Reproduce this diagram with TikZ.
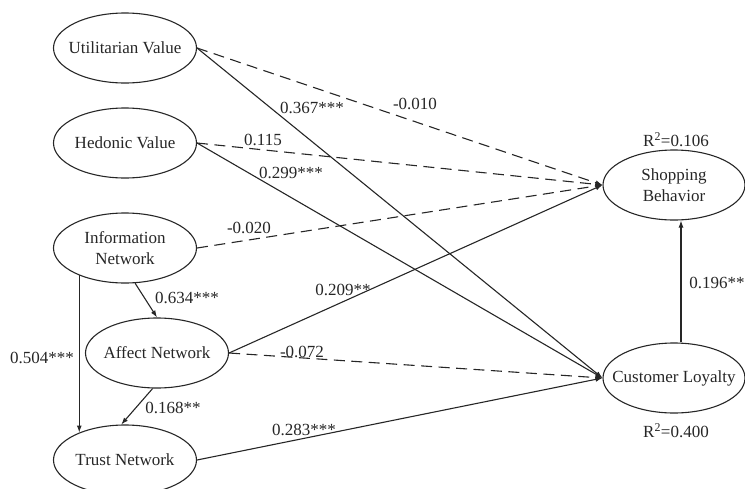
\documentclass[tikz,border=0pt]{standalone}
\usepackage{fontspec}
\setmainfont{Liberation Serif}
\usetikzlibrary{shapes.geometric,arrows.meta}
\begin{document}
\begin{tikzpicture}[x=1pt,y=-1pt,
  every node/.style={font=\fontsize{17}{20.5}\selectfont, text=black!85},
  construct/.style={ellipse, draw=black!85, line width=1.1pt, minimum width=143pt, minimum height=70pt, inner xsep=-25pt, inner ysep=-12pt, align=center},
  path/.style={line width=1.1pt, draw=black!85, -{Latex[length=7pt,width=5pt]}},
  nonsig/.style={path, dash pattern=on 11pt off 6.5pt},
  coef/.style={inner sep=0pt}]
  \useasboundingbox (0,0) rectangle (745,488);
  \clip (0,0) rectangle (745,488);

  % constructs
  \node[construct] (ut) at (125,48)  {Utilitarian Value};
  \node[construct] (he) at (125,143) {Hedonic Value};
  \node[construct] (in) at (125,248) {Information\\Network};
  \node[construct] (af) at (157,353) {Affect Network};
  \node[construct] (tr) at (125,460) {Trust Network};
  \node[construct, minimum width=142pt] (sb) at (674,185) {Shopping\\Behavior};
  \node[construct, minimum width=142pt] (cl) at (674,378) {Customer Loyalty};

  % explained variance
  \node[coef] (r2sb) at (676,140) {R\textsuperscript{2}=0.106};
  \node[coef] (r2cl) at (676,431) {R\textsuperscript{2}=0.400};

  % structural paths
  \draw[nonsig] (ut.east) -- (sb.west);
  \draw[path]   (ut.east) -- (cl.west);
  \draw[nonsig] (he.east) -- (sb.west);
  \draw[path]   (he.east) -- (cl.west);
  \draw[nonsig] (in.east) -- (sb.west);
  \draw[path]   (in.-74) -- (af.north);
  \draw[path]   (in.-149) -- (tr.149);
  \draw[path]   (af.east) -- (sb.west);
  \draw[nonsig] (af.east) -- (cl.west);
  \draw[path]   (af.-97) -- (tr.96);
  \draw[path]   (tr.east) -- (cl.west);
  \draw[path]   ([xshift=7pt]cl.north) -- ([xshift=7pt]sb.south);

  % path coefficients
  \node[coef] (c1)  at (415,104) {-0.010};
  \node[coef] (c2)  at (312,108) {0.367***};
  \node[coef] (c3)  at (263,140) {0.115};
  \node[coef] (c4)  at (291,173) {0.299***};
  \node[coef] (c5)  at (249,228) {-0.020};
  \node[coef] (c6)  at (187,298) {0.634***};
  \node[coef] (c7)  at (42,358)  {0.504***};
  \node[coef] (c8)  at (343,290) {0.209**};
  \node[coef] (c9)  at (302,352) {-0.072};
  \node[coef] (c10) at (173,408) {0.168**};
  \node[coef] (c11) at (304,430) {0.283***};
  \node[coef] (c12) at (717,283) {0.196**};
\end{tikzpicture}
\end{document}
